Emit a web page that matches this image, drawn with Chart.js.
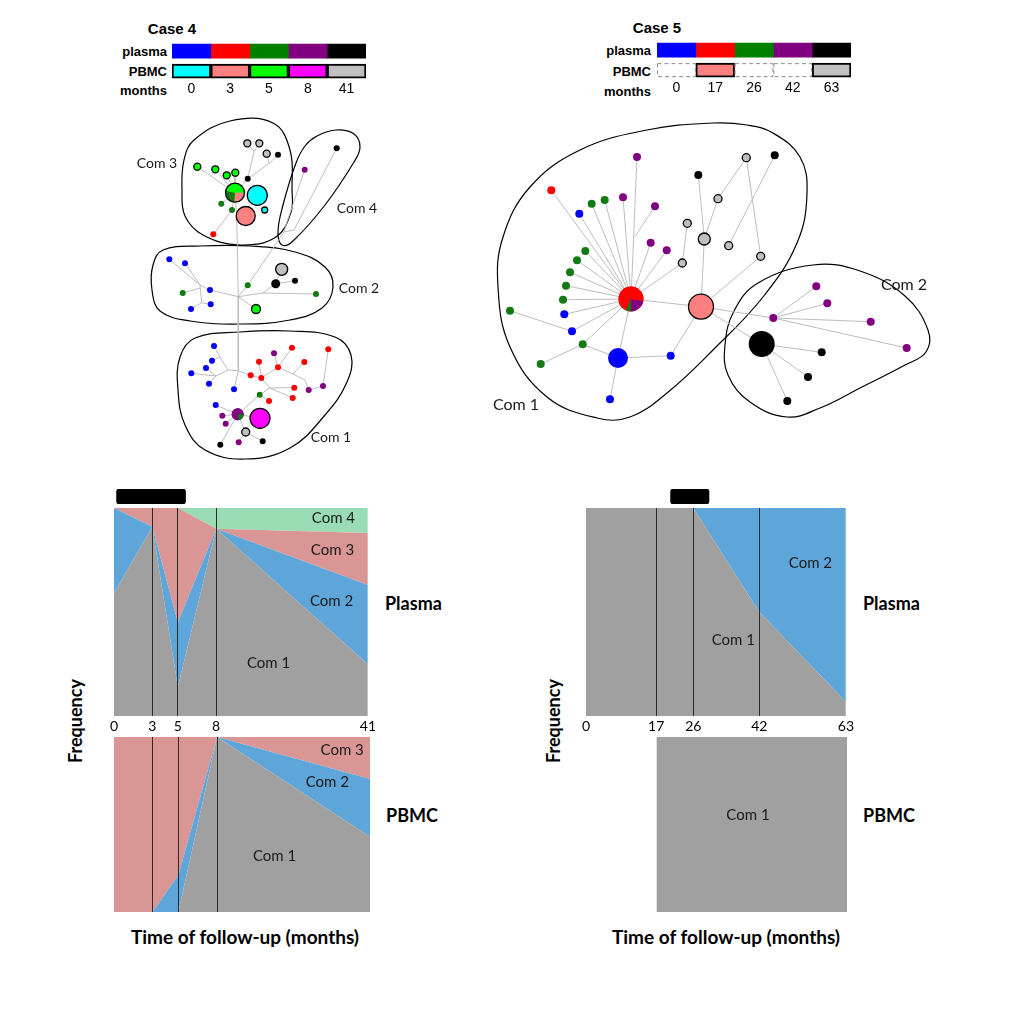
<!DOCTYPE html>
<html>
<head>
<meta charset="utf-8">
<script src="https://cdn.jsdelivr.net/npm/chart.js@4.4.1/dist/chart.umd.min.js"></script>
<style>
  body { margin: 0; background: #fff; width: 1021px; height: 1024px; position: relative; overflow: hidden; }
  .txt { position: absolute; white-space: nowrap; color: #000; transform: translate(-50%, -50%); }
  .lbl { position: absolute; white-space: nowrap; color: #000; transform: translateY(-50%); }
  .arial { font-family: "Liberation Sans", Arial, sans-serif; font-weight: bold; }
  .cal { font-family: Lato, sans-serif; font-weight: bold; font-size: 18px; }
  .rot { transform: translate(-50%, -50%) rotate(-90deg); }
</style>
</head>
<body>
<div class="txt arial" style="left:172px;top:28px;font-size:15px">Case 4</div>
<div class="txt arial" style="left:657px;top:27px;font-size:15px">Case 5</div>
<div class="lbl arial" style="right:854px;top:51px;font-size:13px">plasma</div>
<div class="lbl arial" style="right:854px;top:71px;font-size:13px">PBMC</div>
<div class="lbl arial" style="right:854px;top:90px;font-size:13px">months</div>
<div class="lbl arial" style="right:370px;top:50px;font-size:13px">plasma</div>
<div class="lbl arial" style="right:370px;top:71px;font-size:13px">PBMC</div>
<div class="lbl arial" style="right:370px;top:91px;font-size:13px">months</div>

<div class="lbl cal" style="left:385px;top:603px">Plasma</div>
<div class="lbl cal" style="left:386px;top:815px">PBMC</div>
<div class="lbl cal" style="left:863px;top:603px">Plasma</div>
<div class="lbl cal" style="left:863px;top:815px">PBMC</div>
<div class="txt cal rot" style="left:75px;top:721px">Frequency</div>
<div class="txt cal rot" style="left:553px;top:721px">Frequency</div>
<div class="txt cal" style="left:245px;top:936px;font-size:19px">Time of follow-up (months)</div>
<div class="txt cal" style="left:726px;top:936px;font-size:19px">Time of follow-up (months)</div>

<script>
// ---- sampling legend ----
const months4 = [0, 3, 5, 8, 41];
const months5 = [0, 17, 26, 42, 63];
const plasmaColors = ["#0000ff", "#ff0000", "#008000", "#800080", "#000000"];
const pbmcColors4 = ["#00ffff", "#ff8080", "#00ff00", "#ff00ff", "#c0c0c0"];
const pbmcColors5 = [null, "#ff8080", null, null, "#c0c0c0"]; // null = no PBMC sample

// ---- community frequencies (fraction of sequences), one value per time point ----
const comColors = ["#a0a0a0", "#5ea5da", "#d99694", "#99dcb5"];
const c4PlasmaCom1 = [0.59, 0.91, 0.14, 0.90, 0.25];
const c4PlasmaCom2 = [0.41, 0.00, 0.31, 0.00, 0.38];
const c4PlasmaCom3 = [0.00, 0.09, 0.55, 0.00, 0.25];
const c4PlasmaCom4 = [0.00, 0.00, 0.00, 0.10, 0.12];
const c4PbmcCom1 = [0, 0, 0.00, 1, 0.43];
const c4PbmcCom2 = [0, 0, 0.21, 0, 0.33];
const c4PbmcCom3 = [1, 1, 0.79, 0, 0.24];
const c5PlasmaCom1 = [1, 1, 1, 0.50, 0.07];
const c5PlasmaCom2 = [0, 0, 0, 0.50, 0.93];
const c5PbmcCom1 = [null, 1, 1, 1, 1];

// treatment period (months)
const treat4 = [0.2, 5.6];
const treat5 = [20.5, 29.8];

// ---- networks: nodes [x, y, radius, colour], layout units ----
const nodeColors = { b: "#0000ff", r: "#ff0000", g: "#137a13", p: "#800080", k: "#000000",
  c: "#00ffff", s: "#ff8080", l: "#00ff00", m: "#ff00ff", y: "#c0c0c0" };
const outlined = "ylcsm";

const net4Com3 = [[247.3,143.3,3.5,"y"],[259.3,143.3,3.5,"y"],[266.7,153.7,3.5,"y"],[278,154.7,3,"k"],
  [247.7,178.7,3,"k"],[197.3,166.7,3.5,"l"],[215.3,169.3,3.5,"l"],[226.7,175.3,3.5,"l"],[235.3,172.7,3.5,"l"],
  [257.3,195.3,10,"c"],[264.7,210,3,"c"],[245.7,216,9.5,"s"],[221.3,203.7,3,"g"],[232,210,3,"g"],[213.3,234.3,3,"r"]];
const net4Com4 = [[304.7,169.7,3,"p"],[336.7,148.3,3,"k"]];
const net4Com2 = [[169.3,259.3,3,"b"],[185,263.3,3,"b"],[182.7,293,3,"g"],[210,290,3,"b"],[191,309,3,"b"],
  [210.7,304.3,3,"b"],[281.7,269.3,6,"y"],[275.7,283.7,4.5,"k"],[295,280.7,3,"k"],[247.7,285.3,3,"g"],
  [316,294,3,"g"],[256,309,4.5,"l"]];
const net4Com1 = [[214,346,3,"b"],[212,360.7,3,"b"],[206,368,3,"b"],[191.3,373.3,3,"b"],[209,383.7,3,"b"],
  [234,389.3,3,"b"],[215.7,405,3,"b"],[274,353.3,3,"p"],[292,347.7,3,"r"],[328.3,349.3,3,"r"],[259,361.7,3,"r"],
  [278,367.3,3,"r"],[304.3,362,3,"r"],[250.7,375.3,3,"r"],[261.3,378,3,"r"],[294.3,387.7,3,"r"],[292.7,398,3,"r"],
  [269,401,3,"r"],[308.7,390,3,"p"],[323,386,3,"p"],[259.7,394.7,3,"g"],[222.3,415.7,3,"p"],[225.7,423.7,3,"p"],
  [260,418.3,10,"m"],[245.7,432,4,"y"],[220.3,444.7,3,"k"],[238.7,442.3,3,"p"],[262.7,441.3,3,"k"]];
// mixed nodes: [x, y, radius, [[colour, fromDeg, toDeg], ...], outlined]
const net4Pies = [[235,192.7,9.5,[["l",190,360],["s",0,95],["g",95,190]],true],
  [237.7,414.3,6,[["p",80,360],["g",0,80]],false]];

const net4Edges = [
  [[247.3,143.3],[254,151.7]],[[259.3,143.3],[254,151.7]],[[254,151.7],[247.7,178.7],[235,192.7]],
  [[266.7,153.7],[269.3,163.3]],[[278,154.7],[269.3,163.3]],[[269.3,163.3],[247.7,178.7]],
  [[197.3,166.7],[235,192.7]],[[215.3,169.3],[235,192.7]],[[226.7,175.3],[235,192.7]],[[235.3,172.7],[235,192.7]],
  [[221.3,203.7],[235,192.7]],[[213.3,234.3],[232,210],[235,192.7]],
  [[235,192.7],[236.7,215],[238.3,296.7]],
  [[304.7,169.7],[286,225]],[[336.7,148.3],[294,230],[284,232]],[[286,225],[284,232]],[[284,232],[247.7,285.3]],
  [[169.3,259.3],[200,285]],[[185,263.3],[200,285]],[[182.7,293],[200,288]],[[200,285],[210,290]],
  [[200,285],[201.7,302.7],[191,309]],[[201.7,302.7],[210.7,304.3]],[[210,290],[238.3,296.7]],
  [[247.7,285.3],[238.3,296.7]],[[256,309],[243,300],[238.3,296.7]],[[238.3,296.7],[263,293],[316,294]],
  [[263,293],[275.7,283.7],[281.7,269.3]],[[275.7,283.7],[295,280.7]],
  [[238.3,296.7],[238.3,370.7]],
  [[238.3,370.7],[228,370]],[[214,346],[220,357],[228,370]],[[212,360.7],[220,357]],
  [[228,370],[216,376],[191.3,373.3]],[[206,368],[216,376],[209,383.7]],[[234,389.3],[238.3,370.7]],
  [[238.3,370.7],[250.7,375.3],[261.3,378],[278,367.3],[292,347.7]],[[259,361.7],[261.3,378]],
  [[274,353.3],[278,367.3]],[[278,367.3],[293,374],[304.3,362]],
  [[293,374],[305,380],[308.7,390],[323,386],[328.3,349.3]],
  [[261.3,378],[270,388],[294.3,387.7]],[[270,388],[292.7,398]],[[270,388],[259.7,394.7],[269,401]],
  [[259.7,394.7],[237.7,414.3]],[[215.7,405],[237.7,414.3]],[[222.3,415.7],[237.7,414.3]],
  [[225.7,423.7],[237.7,414.3]],[[237.7,414.3],[260,418.3]],[[237.7,414.3],[245.7,432],[262.7,441.3]],
  [[245.7,432],[238.7,442.3]],[[237.7,414.3],[220.3,444.7]]];

// community outlines (closed, smoothed)
const net4Hulls = [
  [[194,140],[230,121],[273,123],[290,150],[292,190],[291,212],[276,237],[240,245],[203,235],[185,216],[182,190],[184,160]],
  [[317,136],[336,130],[354,134],[360,147],[354,162],[325,205],[293,241],[282,245],[278,232],[283,205],[296,163],[305,146]],
  [[163,250],[200,246],[250,246],[295,252],[325,267],[333,287],[322,308],[290,320],[240,324],[190,321],[160,311],[152,290],[153,265]],
  [[240,332],[290,331],[335,337],[351,355],[347,382],[325,415],[290,448],[245,459],[205,450],[185,425],[178,390],[180,357],[195,338]]];
const net4Notes = [["Com 3",157,163],["Com 4",357,208],["Com 2",359,288],["Com 1",331,437]];

const net5Com1 = [[637,157,4,"p"],[551.3,190.3,4,"r"],[591.7,203.7,4,"g"],[604.7,200,4,"g"],[623,197.3,4,"p"],
  [579.3,213.7,4,"b"],[655,206.3,4,"p"],[698.3,175,4,"k"],[746.3,157.7,4,"y"],[774.7,155.3,4,"k"],[718,198.7,4,"y"],
  [687.3,223.3,4,"y"],[704.3,239,6,"y"],[728.7,245.7,4,"y"],[760.7,256.3,4,"y"],[682.3,263,4,"y"],[650.7,242.7,4,"p"],
  [666.7,250.3,4,"p"],[585.3,251,4,"g"],[577,260.3,4,"g"],[570,272.3,4,"g"],[566,285.7,4,"g"],[563,299.7,4,"g"],
  [564.3,314.3,4,"b"],[510,310.7,4,"g"],[572,331.3,4,"b"],[582.7,344.3,4,"g"],[540.7,364,4,"g"],[701,306.7,12.5,"s"],
  [618,358,10,"b"],[670.7,355.7,4,"b"],[610,399.3,4,"b"]];
const net5Com2 = [[773.3,318,4,"p"],[816.3,286.3,4,"p"],[827.3,303.3,4,"p"],[870.7,321.7,4,"p"],[906.7,348,4,"p"],
  [761.7,344,13,"k"],[821.7,352.3,4,"k"],[808,377,4,"k"],[787.3,401,4,"k"]];
const net5Pies = [[631,299,12.5,[["r",115,370],["p",10,90],["g",90,115]],false]];
const net5Edges = [
  [[631,299],[551.3,190.3]],[[631,299],[591.7,203.7]],[[631,299],[604.7,200]],[[631,299],[623,197.3]],
  [[631,299],[579.3,213.7]],[[631,299],[637,157]],[[655,206.3],[635,236.7]],[[631,299],[650.7,242.7]],
  [[631,299],[666.7,250.3]],[[631,299],[682.3,263]],[[631,299],[585.3,251]],[[631,299],[577,260.3]],
  [[631,299],[570,272.3]],[[631,299],[566,285.7]],[[631,299],[563,299.7]],[[631,299],[564.3,314.3]],
  [[631,299],[572,331.3]],[[631,299],[582.7,344.3]],[[631,299],[618,358]],[[631,299],[701,306.7]],
  [[572,331.3],[510,310.7]],[[582.7,344.3],[540.7,364]],[[582.7,344.3],[618,358]],
  [[618,358],[670.7,355.7],[701,306.7]],[[618,358],[610,399.3]],[[701,306.7],[704.3,239]],
  [[704.3,239],[698.3,175]],[[704.3,239],[718,198.7],[746.3,157.7],[760.7,256.3]],[[687.3,223.3],[682.3,263]],
  [[774.7,155.3],[728.7,245.7]],[[701,306.7],[760.7,256.3]],[[701,306.7],[773.3,318]],[[701,306.7],[761.7,344]],
  [[773.3,318],[816.3,286.3]],[[773.3,318],[827.3,303.3]],[[773.3,318],[870.7,321.7]],[[773.3,318],[906.7,348]],
  [[761.7,344],[821.7,352.3]],[[761.7,344],[808,377]],[[761.7,344],[787.3,401]]];
const net5Hulls = [
  [[713,123],[747,125],[773,133],[800,157],[807,193],[797,243],[763,297],[713,350],[667,393],[630,417],[597,418],
   [547,397],[510,347],[498,287],[503,237],[530,187],[580,150],[647,130]],
  [[813,265],[860,271],[905,296],[928,330],[926,352],[905,365],[860,388],[820,408],[787,417],[750,402],[728,375],
   [725,345],[734,311],[758,283]]];
const net5Notes = [["Com 1",516,405],["Com 2",904,285]];

// label positions inside the area charts [text, month, frequency]
const c4PlasmaNotes = [["Com 4",33.5,0.949],["Com 3",33.3,0.797],["Com 2",33.1,0.551],["Com 1",19.4,0.253]];
const c4PbmcNotes = [["Com 3",35,0.927],["Com 2",31.8,0.74],["Com 1",20.4,0.319]];
const c5PlasmaNotes = [["Com 2",54.4,0.736],["Com 1",35.7,0.365]];
const c5PbmcNotes = [["Com 1",39.1,0.554]];

Chart.defaults.font.family = "Lato, sans-serif";
Chart.defaults.animation = false;
Chart.defaults.events = [];
Chart.defaults.layout.autoPadding = false;
Chart.defaults.plugins.legend.display = false;
Chart.defaults.plugins.tooltip.enabled = false;

// case 4 time axis: 0-8 months at full scale, the 8-41 tail compressed
function axis4(m) { return m <= 8 ? m : 8 + (m - 8) * 0.36; }

function makeCanvas(left, top, w, h) {
  const c = document.createElement("canvas");
  c.width = w; c.height = h;
  c.style.cssText = `position:absolute;left:${left}px;top:${top}px;width:${w}px;height:${h}px`;
  document.body.appendChild(c);
  return c;
}

function notesPlugin(items, font) {
  return {
    id: "notes",
    afterDraw(chart) {
      const { ctx, scales } = chart;
      ctx.save();
      ctx.font = font;
      ctx.fillStyle = "#1a1a1a";
      ctx.textAlign = "center";
      ctx.textBaseline = "middle";
      items.forEach(([t, x, y]) => ctx.fillText(t, scales.x.getPixelForValue(x), scales.y.getPixelForValue(y)));
      ctx.restore();
    },
  };
}

function legendChart(canvas, months, pbmcColors) {
  const clear = "rgba(0,0,0,0)";
  const datasets = months.map((m, i) => ({
    data: [1, 1],
    backgroundColor: [plasmaColors[i], pbmcColors[i] || clear],
    borderColor: [clear, pbmcColors[i] ? "#000" : clear],
    borderWidth: [0, pbmcColors[i] ? 2 : 0],
    borderSkipped: false,
    barThickness: 14,
  }));
  const dashed = {
    id: "dashed",
    afterDatasetsDraw(chart) {
      const ctx = chart.ctx;
      ctx.save();
      ctx.setLineDash([4, 3]);
      ctx.strokeStyle = "#8a8a8a";
      ctx.lineWidth = 1;
      months.forEach((m, i) => {
        if (pbmcColors[i]) return;
        const { x, y, base, height } = chart.getDatasetMeta(i).data[1].getProps(["x", "y", "base", "height"], true);
        ctx.strokeRect(base + 0.5, y - height / 2 + 0.5, x - base - 1, height - 1);
      });
      ctx.restore();
    },
  };
  new Chart(canvas, {
    type: "bar",
    data: { labels: ["plasma", "PBMC"], datasets },
    options: {
      indexAxis: "y",
      responsive: false,
      layout: { padding: 0 },
      scales: {
        x: {
          type: "linear", stacked: true, min: 0, max: months.length,
          grid: { display: false, drawTicks: false }, border: { display: false },
          afterBuildTicks: (a) => { a.ticks = months.map((m, i) => ({ value: i + 0.5 })); },
          ticks: { callback: (v, i) => String(months[i]), font: { family: "Liberation Sans", size: 14 },
            color: "#000", padding: 0, autoSkip: false, maxRotation: 0 },
        },
        y: { stacked: true, display: false },
      },
    },
    plugins: [dashed],
  });
}

function areaChart(canvas, xs, layers, tickLabels, lines, notes) {
  const n = xs.length;
  const datasets = layers.map((vals, k) => ({
    data: xs.map((x, i) => ({ x, y: vals[i] })),
    backgroundColor: comColors[k],
    fill: k === 0 ? "origin" : "-1",
    borderWidth: 0, pointRadius: 0, tension: 0,
  }));
  new Chart(canvas, {
    type: "line",
    data: { datasets },
    options: {
      responsive: false,
      layout: { padding: { left: 10, right: 10 } },
      scales: {
        x: {
          type: "linear", min: xs[0], max: xs[n - 1],
          afterBuildTicks: (a) => { a.ticks = xs.map((v) => ({ value: v })); },
          grid: { display: lines, z: 1, drawTicks: false, lineWidth: 1,
            color: (c) => (c.index > 0 && c.index < n - 1 ? "#2a2a2a" : "rgba(0,0,0,0)") },
          border: { display: false },
          ticks: { display: !!tickLabels, callback: (v, i) => (tickLabels ? String(tickLabels[i]) : ""),
            font: { size: 14 }, color: "#000", padding: 2, autoSkip: false, maxRotation: 0 },
        },
        y: { display: false, stacked: true, min: 0, max: 1 },
      },
    },
    plugins: [notesPlugin(notes, "15px Lato")],
  });
}

function treatBar(canvas, xs, range) {
  new Chart(canvas, {
    type: "bar",
    data: { labels: [""], datasets: [{ data: [range], backgroundColor: "#000", borderRadius: 3,
      borderSkipped: false, barPercentage: 1, categoryPercentage: 1 }] },
    options: {
      indexAxis: "y", responsive: false,
      layout: { padding: { left: 10, right: 10 } },
      scales: { x: { type: "linear", display: false, min: xs[0], max: xs[xs.length - 1] }, y: { display: false } },
    },
  });
}

function networkChart(canvas, bounds, nodes, pies, edges, hulls, notes, fontSize) {
  const pts = (arr) => arr.map((n) => ({ x: n[0], y: n[1] }));
  const edgeData = [];
  edges.forEach((line) => { line.forEach(([x, y]) => edgeData.push({ x, y })); edgeData.push({ x: null, y: null }); });
  const hullSets = hulls.map((h) => {
    const loop = [h[h.length - 1], ...h, h[0], h[1]];
    const last = loop.length - 2;
    return {
      data: loop.map(([x, y]) => ({ x, y })),
      borderColor: "#000", borderWidth: 1.2, pointRadius: 0, tension: 0.4, capBezierPoints: false, fill: false,
      segment: { borderColor: (c) => (c.p0DataIndex === 0 || c.p0DataIndex === last ? "rgba(0,0,0,0)" : "#000") },
      order: 6,
    };
  });
  const pieDraw = {
    id: "pies",
    afterDatasetsDraw(chart) {
      const ctx = chart.ctx;
      const meta = chart.getDatasetMeta(1);
      pies.forEach((p, i) => {
        const { x, y } = meta.data[i].getProps(["x", "y"], true);
        const r = p[2];
        ctx.save();
        p[3].forEach(([col, a0, a1]) => {
          ctx.beginPath();
          ctx.moveTo(x, y);
          ctx.arc(x, y, r, (a0 * Math.PI) / 180, (a1 * Math.PI) / 180);
          ctx.closePath();
          ctx.fillStyle = nodeColors[col];
          ctx.fill();
        });
        if (p[4]) {
          ctx.beginPath();
          ctx.arc(x, y, r, 0, Math.PI * 2);
          ctx.lineWidth = 1.3;
          ctx.strokeStyle = "#000";
          ctx.stroke();
        }
        ctx.restore();
      });
    },
  };
  new Chart(canvas, {
    type: "line",
    data: {
      datasets: [
        { data: pts(nodes), showLine: false, pointRadius: nodes.map((n) => n[2]),
          pointBackgroundColor: nodes.map((n) => nodeColors[n[3]]), pointBorderColor: "#000",
          pointBorderWidth: nodes.map((n) => (outlined.includes(n[3]) ? 1.3 : 0)), order: 0 },
        { data: pts(pies), showLine: false, pointRadius: pies.map((p) => p[2]),
          pointBackgroundColor: pies.map((p) => nodeColors[p[3][0][0]]), pointBorderWidth: 0, order: -1 },
        { data: edgeData, borderColor: "#bdbdbd", borderWidth: 1, pointRadius: 0, spanGaps: false, order: 5 },
        ...hullSets,
      ],
    },
    options: {
      responsive: false,
      layout: { padding: 0 },
      scales: {
        x: { type: "linear", display: false, min: bounds[0], max: bounds[1] },
        y: { type: "linear", display: false, min: bounds[2], max: bounds[3], reverse: true },
      },
    },
    plugins: [pieDraw, notesPlugin(notes, fontSize + "px Lato")],
  });
}

// ---- build the figure ----
legendChart(makeCanvas(172, 41, 194, 57), months4, pbmcColors4);
legendChart(makeCanvas(657, 40, 194, 57), months5, pbmcColors5);

networkChart(makeCanvas(130, 110, 260, 360), [130, 390, 110, 470],
  [...net4Com3, ...net4Com4, ...net4Com2, ...net4Com1], net4Pies, net4Edges, net4Hulls, net4Notes, 14);
networkChart(makeCanvas(480, 110, 460, 320), [480, 940, 110, 430],
  [...net5Com1, ...net5Com2], net5Pies, net5Edges, net5Hulls, net5Notes, 16);

const x4 = months4.map(axis4);
treatBar(makeCanvas(104, 489, 274, 15), x4, treat4.map(axis4));
treatBar(makeCanvas(576, 489, 280, 15), months5, treat5);

areaChart(makeCanvas(104, 508, 274, 229), x4, [c4PlasmaCom1, c4PlasmaCom2, c4PlasmaCom3, c4PlasmaCom4],
  months4, true, c4PlasmaNotes.map(([t, m, f]) => [t, axis4(m), f]));
areaChart(makeCanvas(104, 737, 276, 175), x4, [c4PbmcCom1, c4PbmcCom2, c4PbmcCom3],
  null, true, c4PbmcNotes.map(([t, m, f]) => [t, axis4(m), f]));
areaChart(makeCanvas(576, 508, 280, 229), months5, [c5PlasmaCom1, c5PlasmaCom2],
  months5, true, c5PlasmaNotes);
areaChart(makeCanvas(576, 737, 281, 175), months5, [c5PbmcCom1],
  null, false, c5PbmcNotes);
</script>
</body>
</html>
